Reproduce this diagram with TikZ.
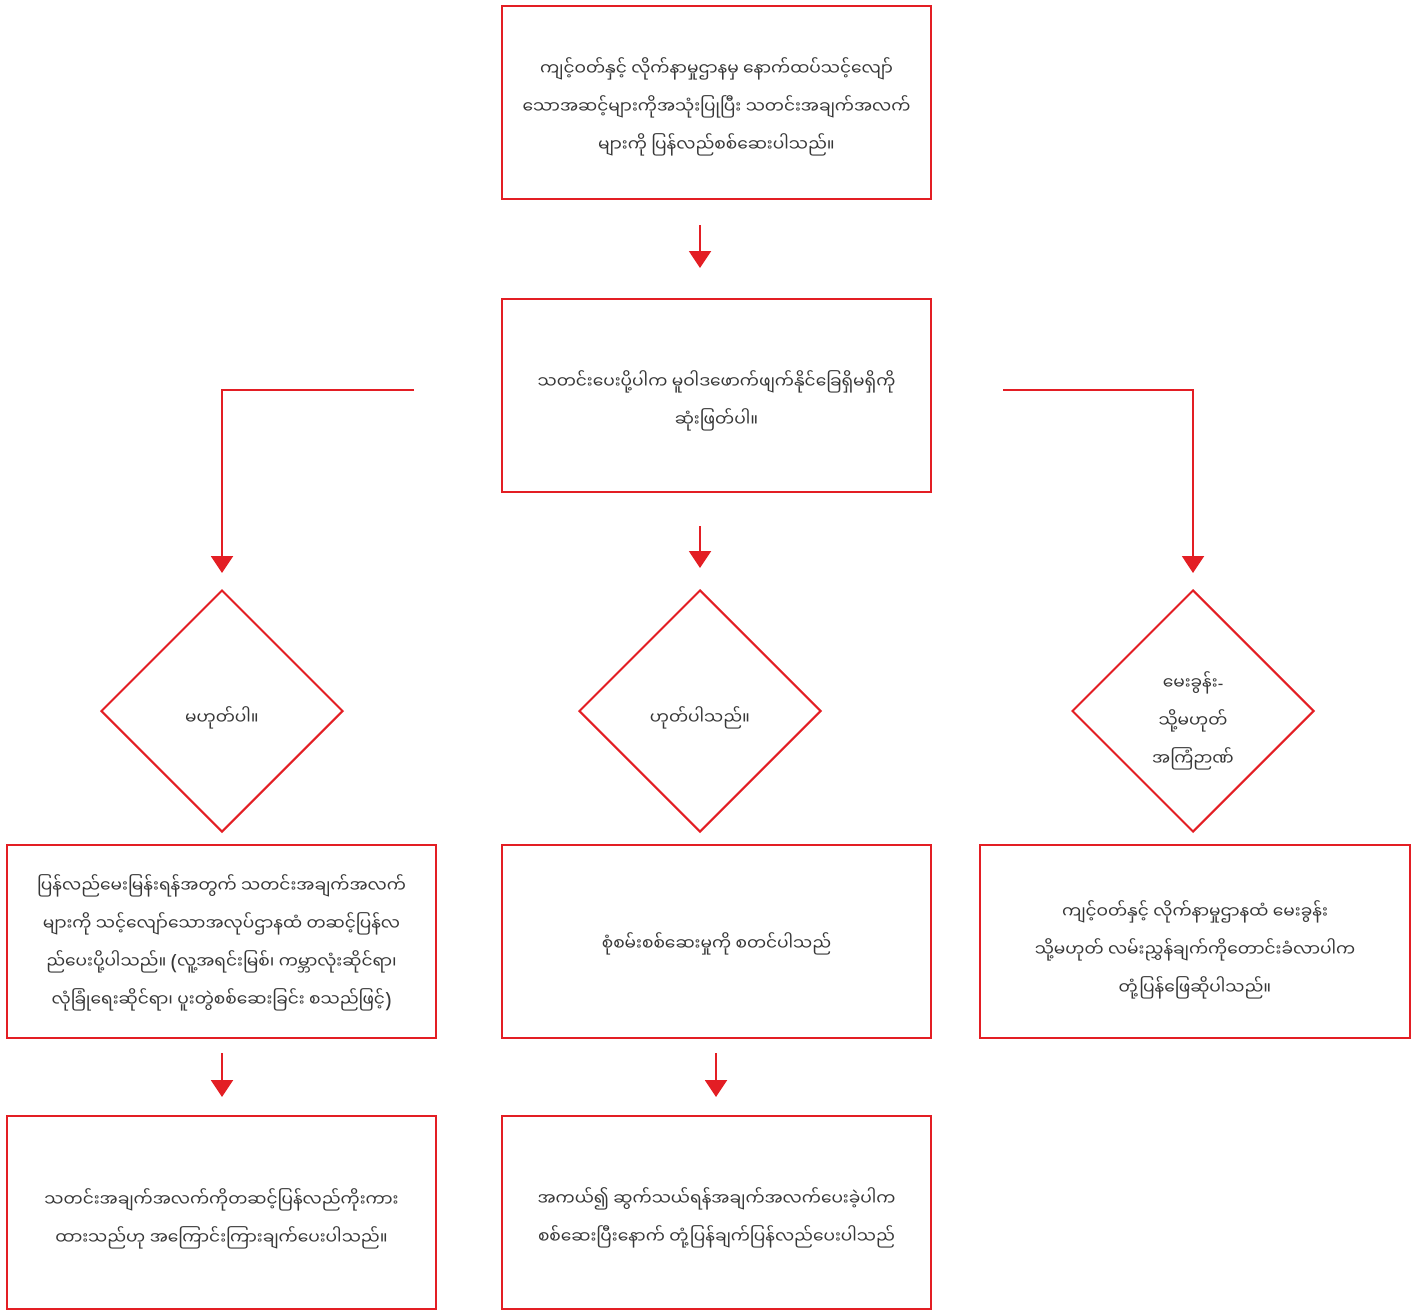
\documentclass[tikz,border=0pt]{standalone}
\usepackage{fontspec}
\newfontfamily\mya[Script=Myanmar]{Noto Sans Myanmar UI}
\newfontfamily\lat{Noto Sans}
\newcommand{\bigpar}[1]{{\lat\fontsize{21}{38}\selectfont\raisebox{-1pt}{#1}}}
\usetikzlibrary{arrows.meta,shapes.geometric}
\definecolor{redline}{RGB}{227,30,36}
\definecolor{txt}{RGB}{55,55,55}
\begin{document}
\begin{tikzpicture}[x=1pt,y=-1pt,
  tx/.style={font=\mya\fontsize{17}{38}\selectfont, text=txt, align=center, inner sep=0pt},
  box/.style={draw=redline, line width=2pt, rectangle, minimum width=429pt, minimum height=193pt, inner sep=0pt},
  dia/.style={draw=redline, line width=2pt, diamond, aspect=1, minimum width=242pt, minimum height=242pt, inner sep=0pt},
  arr/.style={draw=redline, line width=2pt, -{Triangle[width=22pt,length=17pt]}}]
\useasboundingbox (0,0) rectangle (1420,1309);
\fill[white] (0,0) rectangle (1420,1309);

% shapes
\node[box] (b1) at (716.5,102) {};
\node[box] (b2) at (716.5,395.5) {};
\node[dia] (d1) at (222,711) {};
\node[dia] (d2) at (700,711) {};
\node[dia] (d3) at (1193,711) {};
\node[box] (b3) at (221.5,941.5) {};
\node[box] (b4) at (716.5,941.5) {};
\node[box, minimum width=430pt] (b5) at (1195,941.5) {};
\node[box] (b6) at (221.5,1212.5) {};
\node[box] (b7) at (716.5,1212.5) {};

% texts
\node[tx] (t1) at ([yshift=-5pt]b1.center) {ကျင့်ဝတ်နှင့် လိုက်နာမှုဌာနမှ နောက်ထပ်သင့်လျော်\\သောအဆင့်များကိုအသုံးပြုပြီး သတင်းအချက်အလက်\\များကို ပြန်လည်စစ်ဆေးပါသည်။};
\node[tx] (t2) at ([yshift=-5pt]b2.center) {သတင်းပေးပို့ပါက မူဝါဒဖောက်ဖျက်နိုင်ခြေရှိမရှိကို\\ဆုံးဖြတ်ပါ။};
\node[tx] (td1) at ([yshift=-7pt]d1.center) {မဟုတ်ပါ။};
\node[tx] (td2) at ([yshift=-7pt]d2.center) {ဟုတ်ပါသည်။};
\node[tx] (td3) at ([yshift=-10pt]d3.center) {မေးခွန်း{\lat-}\\သို့မဟုတ်\\အကြံဉာဏ်};
\node[tx] (t3) at ([yshift=-1.5pt]b3.center) {ပြန်လည်မေးမြန်းရန်အတွက် သတင်းအချက်အလက်\\များကို သင့်လျော်သောအလုပ်ဌာနထံ တဆင့်ပြန်လ\\ည်ပေးပို့ပါသည်။ \bigpar{(}လူ့အရင်းမြစ်၊ ကမ္ဘာလုံးဆိုင်ရာ၊\\လုံခြုံရေးဆိုင်ရာ၊ ပူးတွဲစစ်ဆေးခြင်း စသည်ဖြင့်\bigpar{)}};
\node[tx] (t4) at ([yshift=-2pt]b4.center) {စုံစမ်းစစ်ဆေးမှုကို စတင်ပါသည်};
\node[tx] (t5) at ([yshift=-8pt]b5.center) {ကျင့်ဝတ်နှင့် လိုက်နာမှုဌာနထံ မေးခွန်း\\သို့မဟုတ် လမ်းညွှန်ချက်ကိုတောင်းခံလာပါက\\တုံ့ပြန်ဖြေဆိုပါသည်။};
\node[tx] (t6) at ([yshift=-6pt]b6.center) {သတင်းအချက်အလက်ကိုတဆင့်ပြန်လည်ကိုးကား\\ထားသည်ဟု အကြောင်းကြားချက်ပေးပါသည်။};
\node[tx] (t7) at ([yshift=-5.5pt]b7.center) {အကယ်၍ ဆွက်သယ်ရန်အချက်အလက်ပေးခဲ့ပါက\\စစ်ဆေးပြီးနောက် တုံ့ပြန်ချက်ပြန်လည်ပေးပါသည်};

% connectors
\coordinate (s1) at (700,225);
\coordinate (s2) at (700,526);
\coordinate (sl) at (414,390);
\coordinate (sr) at (1003,390);
\coordinate (s3) at (222,1053);
\coordinate (s4) at (716,1053);

\draw[arr, shorten >=30pt] (s1) -- (s1 |- b2.north);
\draw[arr, shorten >=21pt] (s2) -- (d2.north);
\draw[arr, shorten >=16pt] (sl) -| (d1.north);
\draw[arr, shorten >=16pt] (sr) -| (d3.north);
\draw[arr, shorten >=18pt] (s3) -- (s3 |- b6.north);
\draw[arr, shorten >=18pt] (s4) -- (s4 |- b7.north);
\end{tikzpicture}
\end{document}
